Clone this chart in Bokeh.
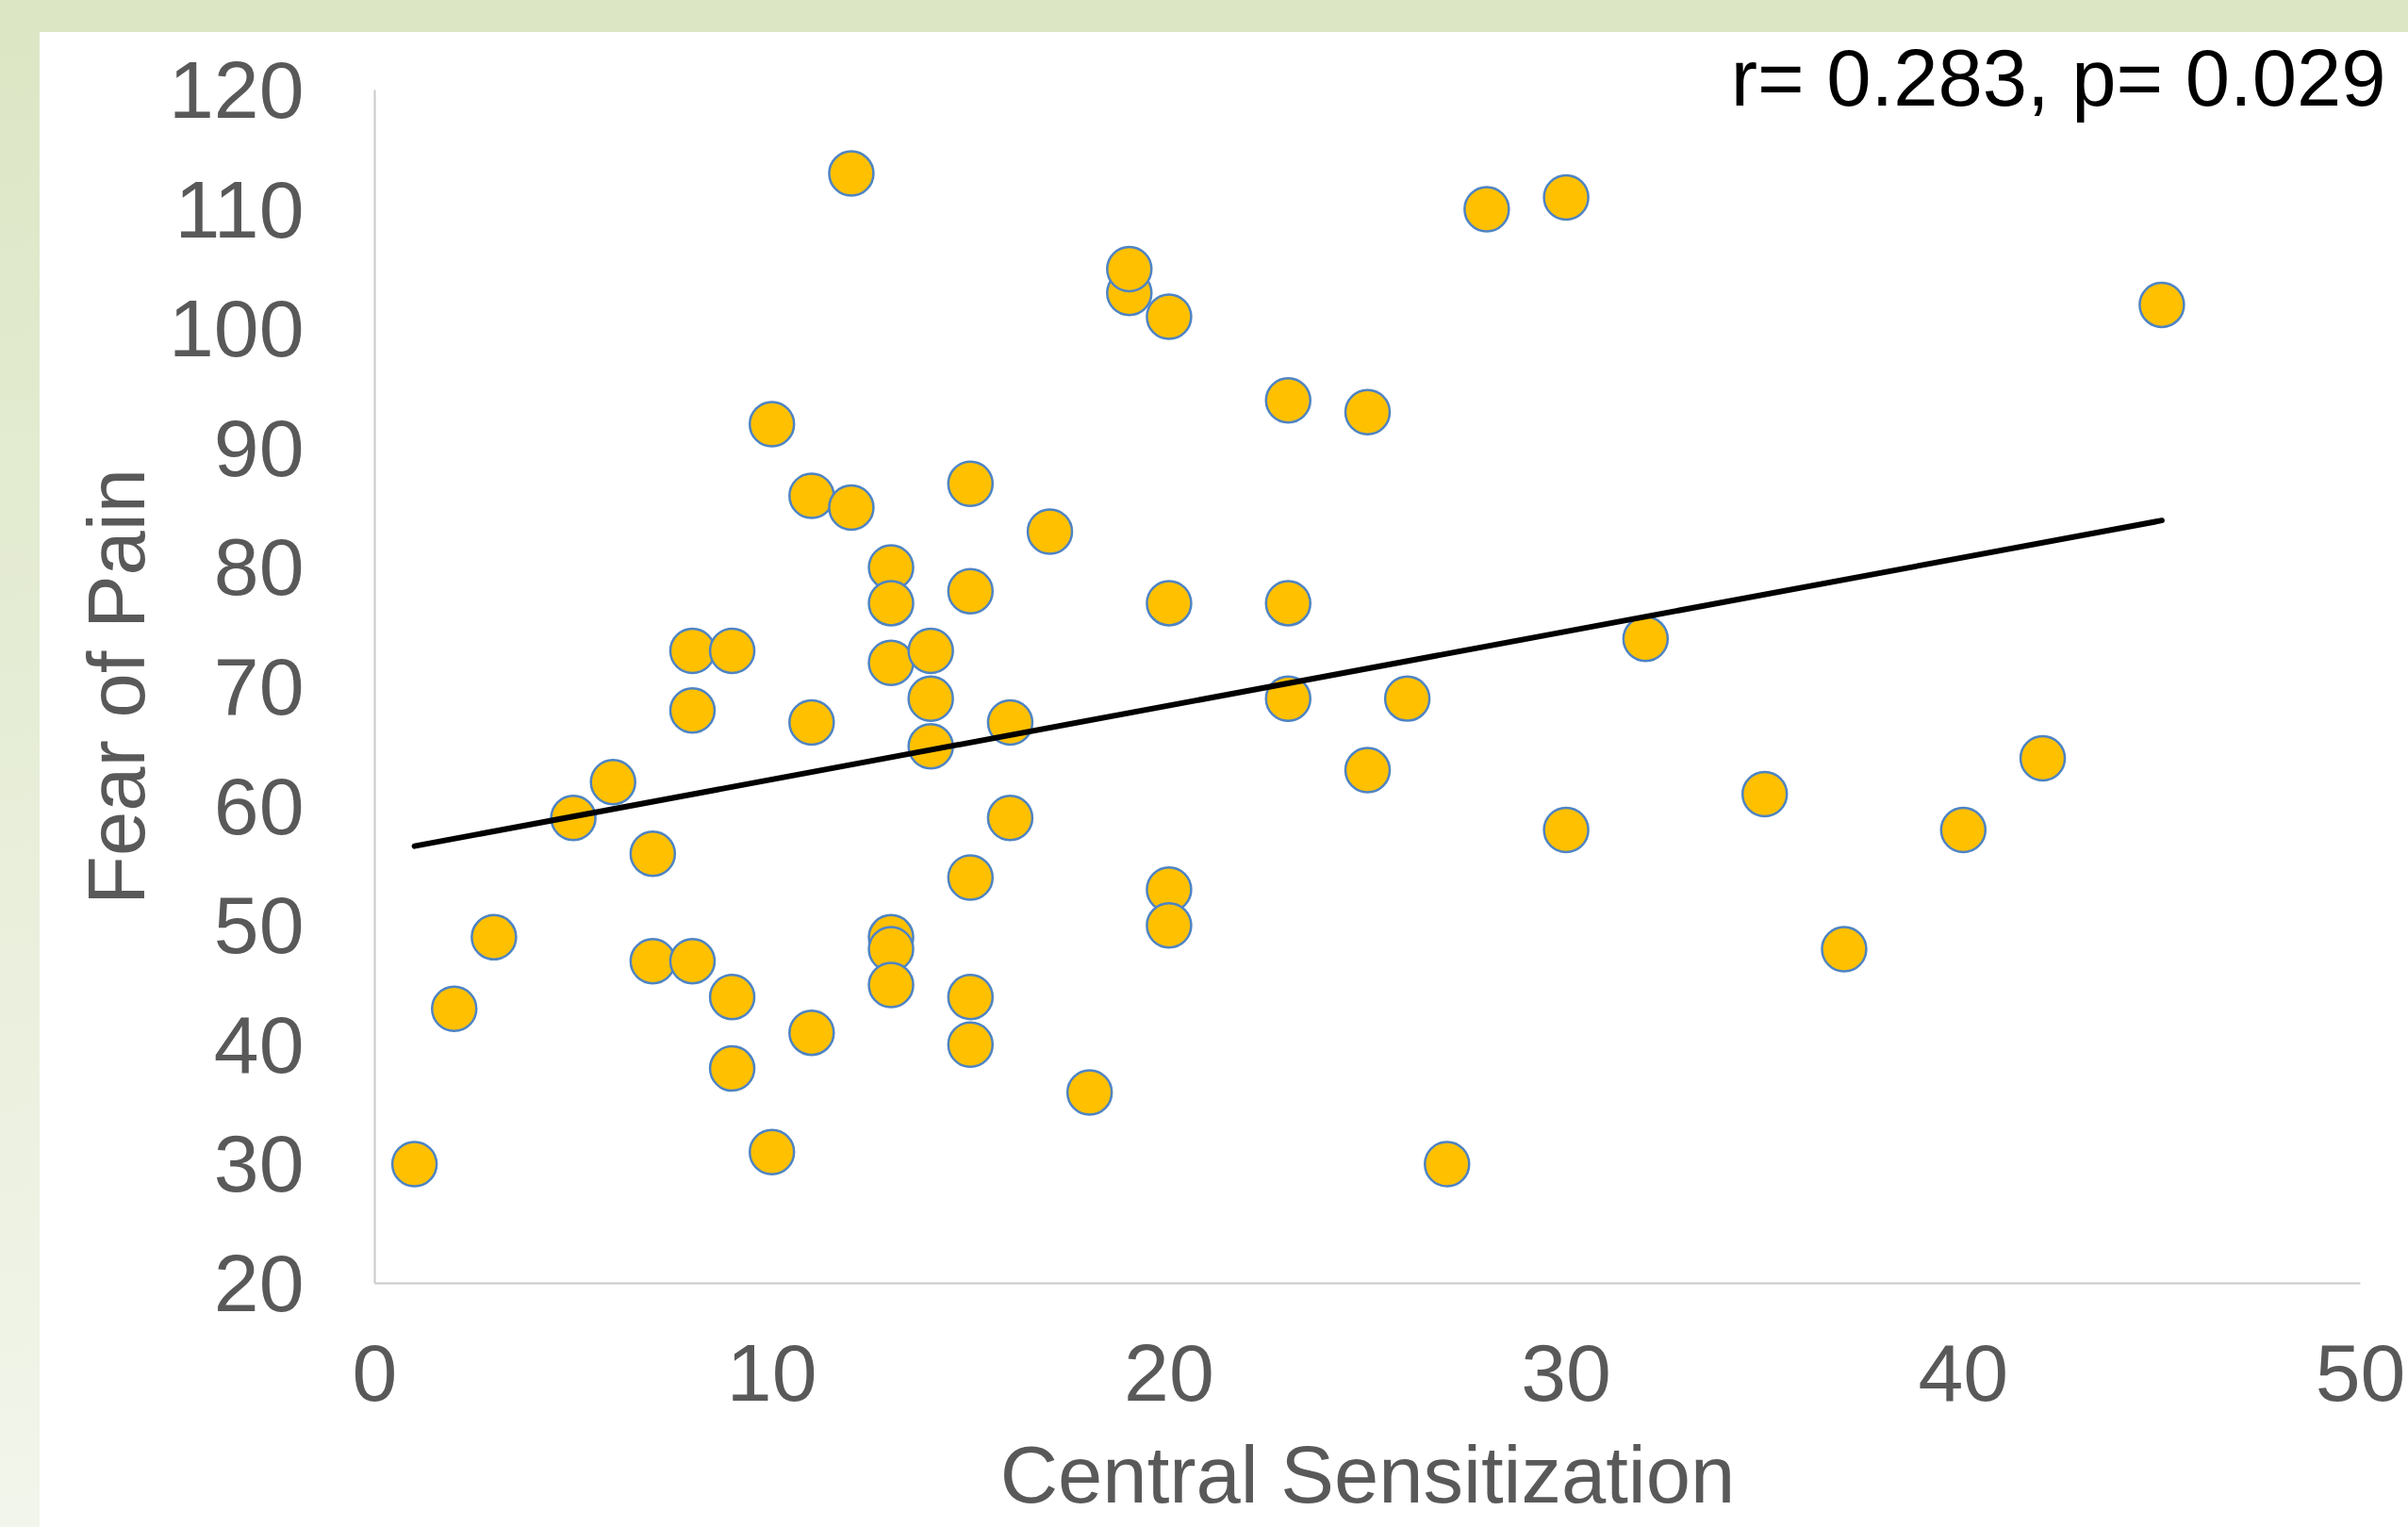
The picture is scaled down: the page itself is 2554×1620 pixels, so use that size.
import numpy as np
from bokeh.plotting import figure
from bokeh.models import Range1d, FixedTicker
from bokeh.embed import file_html
from bokeh.resources import INLINE

# ---- data ----
central_sensitization = [1, 2, 3, 5, 6, 7, 7, 8, 8, 8, 9, 9, 9, 10, 10, 11, 11, 11, 12, 12,
                         13, 13, 13, 13, 13, 13, 14, 14, 14, 15, 15, 15, 15, 15, 16, 16, 17, 18, 19, 19,
                         20, 20, 20, 20, 23, 23, 23, 25, 25, 26, 27, 28, 30, 30, 32, 35, 37, 40, 42, 45]
fear_of_pain = [30, 43, 49, 59, 62, 56, 47, 73, 68, 47, 73, 44, 38, 92, 31, 86, 67, 41, 113, 85,
                80, 77, 72, 49, 48, 45, 73, 69, 65, 87, 78, 54, 44, 40, 67, 59, 83, 36, 103, 105,
                101, 77, 53, 50, 94, 77, 69, 93, 63, 69, 30, 110, 111, 58, 74, 61, 48, 58, 64, 102]
x_ticks = [0, 10, 20, 30, 40, 50]
y_ticks = [20, 30, 40, 50, 60, 70, 80, 90, 100, 110, 120]
stat_text = "r= 0.283, p= 0.029"
x_title = "Central Sensitization"
y_title = "Fear of Pain"

W, H = 2554, 1620
FONT = "Liberation Sans"
GRAY = "#595959"

p = figure(width=W, height=H, output_backend="svg", toolbar_location=None,
           x_range=Range1d(0, 50), y_range=Range1d(20, 120),
           min_border_left=397, min_border_right=51, min_border_top=95, min_border_bottom=259)
p.outline_line_color = None
p.background_fill_color = "white"
p.border_fill_alpha = 0
# decorative light-green frame of the slide (top band + left band with vertical gradient)
p.styles = {
    "background": ("linear-gradient(#DCE6C4, #DCE6C4) 0 0 / 100% 34px no-repeat, "
                   "linear-gradient(to bottom, #DCE6C4, #F2F5EB) 0 0 / 42px 100% no-repeat, "
                   "#FFFFFF"),
}
p.xgrid.visible = False
p.ygrid.visible = False

for ax in (p.xaxis[0], p.yaxis[0]):
    ax.axis_line_color = "#C9C9C9"
    ax.axis_line_width = 2
    ax.major_tick_line_color = None
    ax.minor_tick_line_color = None
    ax.major_tick_out = 0
    ax.major_tick_in = 0
    ax.major_label_text_font = FONT
    ax.major_label_text_font_size = "86px"
    ax.major_label_text_color = GRAY
    ax.axis_label_text_font = FONT
    ax.axis_label_text_font_size = "85px"
    ax.axis_label_text_color = GRAY
    ax.axis_label_text_font_style = "normal"

p.xaxis[0].ticker = FixedTicker(ticks=x_ticks)
p.yaxis[0].ticker = FixedTicker(ticks=y_ticks)
p.xaxis[0].axis_label = x_title
p.yaxis[0].axis_label = y_title
p.xaxis[0].major_label_standoff = 65
p.xaxis[0].axis_label_standoff = 28
p.yaxis[0].major_label_standoff = 75
p.yaxis[0].axis_label_standoff = 5

# statistics annotation in the top right corner (as the plot title)
p.title.text = stat_text
p.title.align = "right"
p.title.vertical_align = "bottom"
p.title.text_font = FONT
p.title.text_font_size = "85px"
p.title.text_font_style = "normal"
p.title.text_color = "black"
p.title.offset = -27
p.title.standoff = -68

# points
p.scatter(central_sensitization, fear_of_pain, size=47, fill_color="#FFC000",
          line_color="#4E84C4", line_width=2.5)

# linear trend line
xs = np.array(central_sensitization, dtype=float)
ys = np.array(fear_of_pain, dtype=float)
slope, intercept = np.polyfit(xs, ys, 1)
tx = [xs.min(), xs.max()]
ty = [slope * v + intercept for v in tx]
p.line(tx, ty, line_color="black", line_width=6, line_cap="round")

open("out.html", "w").write(file_html(p, INLINE))
